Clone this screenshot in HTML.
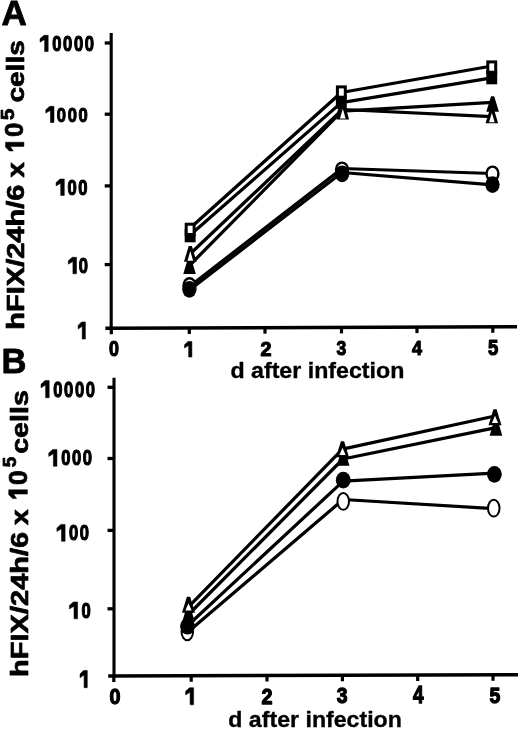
<!DOCTYPE html>
<html><head><meta charset="utf-8"><style>
html,body{margin:0;padding:0;background:#fff;}
svg{display:block;will-change:transform;}
</style></head><body>
<svg width="520" height="735" viewBox="0 0 520 735">
<rect width="520" height="735" fill="#fff"/>
<line x1="111.2" y1="33" x2="111.2" y2="329.8" stroke="#000" stroke-width="3.1"/>
<line x1="105.4" y1="328.3" x2="517" y2="326.7" stroke="#000" stroke-width="3.4"/>
<line x1="104.7" y1="43" x2="111.2" y2="43" stroke="#000" stroke-width="3.3"/>
<line x1="104.7" y1="114.2" x2="111.2" y2="114.2" stroke="#000" stroke-width="3.3"/>
<line x1="104.7" y1="185.9" x2="111.2" y2="185.9" stroke="#000" stroke-width="3.3"/>
<line x1="104.7" y1="264.6" x2="111.2" y2="264.6" stroke="#000" stroke-width="3.3"/>
<line x1="111.3" y1="328.277065111759" x2="111.3" y2="334.277065111759" stroke="#000" stroke-width="3.2"/>
<line x1="189.3" y1="327.97385811467444" x2="189.3" y2="333.97385811467444" stroke="#000" stroke-width="3.2"/>
<line x1="265" y1="327.6795918367347" x2="265" y2="333.6795918367347" stroke="#000" stroke-width="3.2"/>
<line x1="341.5" y1="327.3822157434402" x2="341.5" y2="333.3822157434402" stroke="#000" stroke-width="3.2"/>
<line x1="417" y1="327.08872691933914" x2="417" y2="333.08872691933914" stroke="#000" stroke-width="3.2"/>
<line x1="492.8" y1="326.79407191448007" x2="492.8" y2="332.79407191448007" stroke="#000" stroke-width="3.2"/>
<polyline points="189.50,286.50 342.00,168.50 492.50,173.50" fill="none" stroke="#000" stroke-width="3.25" stroke-linejoin="round" stroke-linecap="butt"/>
<polyline points="189.50,290.00 342.00,172.50 492.70,184.80" fill="none" stroke="#000" stroke-width="3.25" stroke-linejoin="round" stroke-linecap="butt"/>
<polyline points="190.30,253.80 342.50,109.50 491.80,116.60" fill="none" stroke="#000" stroke-width="3.25" stroke-linejoin="round" stroke-linecap="butt"/>
<polyline points="189.50,265.50 342.00,111.20 492.50,102.30" fill="none" stroke="#000" stroke-width="3.25" stroke-linejoin="round" stroke-linecap="butt"/>
<polyline points="190.20,235.00 341.30,102.60 491.80,77.80" fill="none" stroke="#000" stroke-width="3.25" stroke-linejoin="round" stroke-linecap="butt"/>
<polyline points="190.20,228.00 341.30,92.50 491.80,66.00" fill="none" stroke="#000" stroke-width="3.25" stroke-linejoin="round" stroke-linecap="butt"/>
<ellipse cx="189.50" cy="285.40" rx="7.15" ry="8.40" fill="#000"/><ellipse cx="189.50" cy="285.40" rx="4.75" ry="6.00" fill="#fff"/>
<ellipse cx="342.00" cy="169.80" rx="7.15" ry="8.40" fill="#000"/><ellipse cx="342.00" cy="169.80" rx="4.75" ry="6.00" fill="#fff"/>
<ellipse cx="492.50" cy="173.80" rx="7.15" ry="8.40" fill="#000"/><ellipse cx="492.50" cy="173.80" rx="4.75" ry="6.00" fill="#fff"/>
<ellipse cx="189.40" cy="289.30" rx="7.15" ry="8.40" fill="#000"/>
<ellipse cx="342.10" cy="173.80" rx="7.15" ry="8.40" fill="#000"/>
<ellipse cx="492.50" cy="184.60" rx="7.15" ry="8.40" fill="#000"/>
<polygon points="187.95,258.40 191.15,258.40 195.85,274.00 183.25,274.00" fill="#000"/>
<polygon points="340.40,101.70 343.60,101.70 348.30,117.30 335.70,117.30" fill="#000"/>
<polygon points="491.00,96.15 494.20,96.15 498.90,111.75 486.30,111.75" fill="#000"/>
<polygon points="188.70,246.05 191.90,246.05 196.60,261.65 184.00,261.65" fill="#000"/><polygon points="190.30,251.05 193.10,260.65 187.50,260.65" fill="#fff"/>
<polygon points="341.20,103.80 344.40,103.80 349.10,119.40 336.50,119.40" fill="#000"/><polygon points="342.80,108.80 345.60,118.40 340.00,118.40" fill="#fff"/>
<polygon points="490.25,107.65 493.45,107.65 498.15,123.25 485.55,123.25" fill="#000"/><polygon points="491.85,112.65 494.65,122.25 489.05,122.25" fill="#fff"/>
<rect x="184.70" y="228.70" width="10.90" height="13.60" fill="#000"/>
<rect x="335.85" y="95.20" width="10.90" height="13.60" fill="#000"/>
<rect x="486.30" y="70.70" width="10.90" height="13.60" fill="#000"/>
<rect x="184.70" y="222.70" width="10.90" height="13.60" fill="#000"/><rect x="187.70" y="225.70" width="4.90" height="7.30" fill="#fff"/>
<rect x="335.90" y="85.40" width="10.90" height="13.60" fill="#000"/><rect x="338.90" y="88.40" width="4.90" height="7.30" fill="#fff"/>
<rect x="486.30" y="60.40" width="10.90" height="13.60" fill="#000"/><rect x="489.30" y="63.40" width="4.90" height="7.30" fill="#fff"/>
<line x1="114.0" y1="377.7" x2="114.0" y2="677.5" stroke="#000" stroke-width="3.1"/>
<line x1="108.2" y1="676" x2="518" y2="674.7" stroke="#000" stroke-width="3.4"/>
<line x1="107.5" y1="387.3" x2="114.0" y2="387.3" stroke="#000" stroke-width="3.3"/>
<line x1="107.5" y1="458.5" x2="114.0" y2="458.5" stroke="#000" stroke-width="3.3"/>
<line x1="107.5" y1="530.4" x2="114.0" y2="530.4" stroke="#000" stroke-width="3.3"/>
<line x1="107.5" y1="608.8" x2="114.0" y2="608.8" stroke="#000" stroke-width="3.3"/>
<line x1="113.8" y1="675.9822352367008" x2="113.8" y2="681.9822352367008" stroke="#000" stroke-width="3.2"/>
<line x1="191.2" y1="675.736700829673" x2="191.2" y2="681.736700829673" stroke="#000" stroke-width="3.2"/>
<line x1="267" y1="675.4962420693021" x2="267" y2="681.4962420693021" stroke="#000" stroke-width="3.2"/>
<line x1="342.4" y1="675.2570522205955" x2="342.4" y2="681.2570522205955" stroke="#000" stroke-width="3.2"/>
<line x1="417.7" y1="675.0181795998049" x2="417.7" y2="681.0181795998049" stroke="#000" stroke-width="3.2"/>
<line x1="493" y1="674.7793069790142" x2="493" y2="680.7793069790142" stroke="#000" stroke-width="3.2"/>
<polyline points="187.30,632.60 343.20,499.50 493.80,508.60" fill="none" stroke="#000" stroke-width="3.25" stroke-linejoin="round" stroke-linecap="butt"/>
<polyline points="187.50,625.80 343.20,481.10 494.40,473.10" fill="none" stroke="#000" stroke-width="3.25" stroke-linejoin="round" stroke-linecap="butt"/>
<polyline points="188.50,614.50 343.00,459.00 496.00,427.60" fill="none" stroke="#000" stroke-width="3.25" stroke-linejoin="round" stroke-linecap="butt"/>
<polyline points="188.50,606.80 342.50,449.20 495.00,416.00" fill="none" stroke="#000" stroke-width="3.25" stroke-linejoin="round" stroke-linecap="butt"/>
<ellipse cx="187.30" cy="631.75" rx="6.75" ry="9.45" fill="#000"/><ellipse cx="187.30" cy="631.75" rx="4.75" ry="7.45" fill="#fff"/>
<ellipse cx="343.25" cy="501.40" rx="6.75" ry="9.45" fill="#000"/><ellipse cx="343.25" cy="501.40" rx="4.75" ry="7.45" fill="#fff"/>
<ellipse cx="493.75" cy="508.15" rx="6.75" ry="9.45" fill="#000"/><ellipse cx="493.75" cy="508.15" rx="4.75" ry="7.45" fill="#fff"/>
<ellipse cx="187.50" cy="626.30" rx="7.40" ry="8.30" fill="#000"/>
<ellipse cx="343.25" cy="480.15" rx="7.40" ry="8.30" fill="#000"/>
<ellipse cx="494.40" cy="474.35" rx="7.40" ry="8.30" fill="#000"/>
<polygon points="186.90,605.95 190.10,605.95 194.85,622.05 182.15,622.05" fill="#000"/>
<polygon points="341.50,449.70 344.70,449.70 349.45,465.80 336.75,465.80" fill="#000"/>
<polygon points="494.35,419.70 497.55,419.70 502.30,435.80 489.60,435.80" fill="#000"/>
<polygon points="186.90,596.70 190.10,596.70 195.00,612.80 182.00,612.80" fill="#000"/><polygon points="188.50,603.20 191.60,610.50 185.40,610.50" fill="#fff"/>
<polygon points="340.90,441.20 344.10,441.20 349.00,457.30 336.00,457.30" fill="#000"/><polygon points="342.50,447.70 345.60,455.00 339.40,455.00" fill="#fff"/>
<polygon points="493.40,409.25 496.60,409.25 501.50,425.35 488.50,425.35" fill="#000"/><polygon points="495.00,415.75 498.10,423.05 491.90,423.05" fill="#fff"/>
<polygon points="48.20,35.30 48.20,51.60 44.60,51.60 44.60,39.54 40.00,42.15 40.00,38.72 44.00,35.30" fill="#000" stroke="#000" stroke-width="0.5" stroke-linejoin="round"/>
<text transform="translate(89.30,50.79) scale(0.8470,1.0855)" font-family="Liberation Sans" font-weight="bold" stroke="#000" stroke-linejoin="round" stroke-width="1.1" font-size="19.6" text-anchor="middle">0</text>
<text transform="translate(78.50,50.79) scale(0.8470,1.0855)" font-family="Liberation Sans" font-weight="bold" stroke="#000" stroke-linejoin="round" stroke-width="1.1" font-size="19.6" text-anchor="middle">0</text>
<text transform="translate(67.70,50.79) scale(0.8470,1.0855)" font-family="Liberation Sans" font-weight="bold" stroke="#000" stroke-linejoin="round" stroke-width="1.1" font-size="19.6" text-anchor="middle">0</text>
<text transform="translate(56.90,50.79) scale(0.8470,1.0855)" font-family="Liberation Sans" font-weight="bold" stroke="#000" stroke-linejoin="round" stroke-width="1.1" font-size="19.6" text-anchor="middle">0</text>
<polygon points="54.00,106.30 54.00,122.50 50.40,122.50 50.40,110.51 45.80,113.10 45.80,109.70 49.80,106.30" fill="#000" stroke="#000" stroke-width="0.5" stroke-linejoin="round"/>
<text transform="translate(83.05,121.70) scale(0.8470,1.0788)" font-family="Liberation Sans" font-weight="bold" stroke="#000" stroke-linejoin="round" stroke-width="1.1" font-size="19.6" text-anchor="middle">0</text>
<text transform="translate(72.25,121.70) scale(0.8470,1.0788)" font-family="Liberation Sans" font-weight="bold" stroke="#000" stroke-linejoin="round" stroke-width="1.1" font-size="19.6" text-anchor="middle">0</text>
<text transform="translate(61.45,121.70) scale(0.8470,1.0788)" font-family="Liberation Sans" font-weight="bold" stroke="#000" stroke-linejoin="round" stroke-width="1.1" font-size="19.6" text-anchor="middle">0</text>
<polygon points="64.30,179.00 64.30,195.40 60.70,195.40 60.70,183.26 56.10,185.89 56.10,182.44 60.10,179.00" fill="#000" stroke="#000" stroke-width="0.5" stroke-linejoin="round"/>
<text transform="translate(82.85,194.59) scale(0.8470,1.0922)" font-family="Liberation Sans" font-weight="bold" stroke="#000" stroke-linejoin="round" stroke-width="1.1" font-size="19.6" text-anchor="middle">0</text>
<text transform="translate(72.05,194.59) scale(0.8470,1.0922)" font-family="Liberation Sans" font-weight="bold" stroke="#000" stroke-linejoin="round" stroke-width="1.1" font-size="19.6" text-anchor="middle">0</text>
<polygon points="76.50,257.30 76.50,273.80 72.90,273.80 72.90,261.59 68.30,264.23 68.30,260.76 72.30,257.30" fill="#000" stroke="#000" stroke-width="0.5" stroke-linejoin="round"/>
<text transform="translate(83.45,272.98) scale(0.8470,1.0988)" font-family="Liberation Sans" font-weight="bold" stroke="#000" stroke-linejoin="round" stroke-width="1.1" font-size="19.6" text-anchor="middle">0</text>
<polygon points="85.40,321.90 85.40,339.10 82.19,339.10 82.19,326.37 78.10,329.12 78.10,325.51 81.59,321.90" fill="#000" stroke="#000" stroke-width="0.5" stroke-linejoin="round"/>
<polygon points="49.20,380.60 49.20,397.75 45.60,397.75 45.60,385.06 41.00,387.80 41.00,384.20 45.00,380.60" fill="#000" stroke="#000" stroke-width="0.5" stroke-linejoin="round"/>
<text transform="translate(90.30,396.90) scale(0.8470,1.1421)" font-family="Liberation Sans" font-weight="bold" stroke="#000" stroke-linejoin="round" stroke-width="1.1" font-size="19.6" text-anchor="middle">0</text>
<text transform="translate(79.50,396.90) scale(0.8470,1.1421)" font-family="Liberation Sans" font-weight="bold" stroke="#000" stroke-linejoin="round" stroke-width="1.1" font-size="19.6" text-anchor="middle">0</text>
<text transform="translate(68.70,396.90) scale(0.8470,1.1421)" font-family="Liberation Sans" font-weight="bold" stroke="#000" stroke-linejoin="round" stroke-width="1.1" font-size="19.6" text-anchor="middle">0</text>
<text transform="translate(57.90,396.90) scale(0.8470,1.1421)" font-family="Liberation Sans" font-weight="bold" stroke="#000" stroke-linejoin="round" stroke-width="1.1" font-size="19.6" text-anchor="middle">0</text>
<polygon points="56.95,449.40 56.95,466.25 53.35,466.25 53.35,453.78 48.75,456.48 48.75,452.94 52.75,449.40" fill="#000" stroke="#000" stroke-width="0.5" stroke-linejoin="round"/>
<text transform="translate(87.45,465.41) scale(0.8470,1.1221)" font-family="Liberation Sans" font-weight="bold" stroke="#000" stroke-linejoin="round" stroke-width="1.1" font-size="19.6" text-anchor="middle">0</text>
<text transform="translate(76.65,465.41) scale(0.8470,1.1221)" font-family="Liberation Sans" font-weight="bold" stroke="#000" stroke-linejoin="round" stroke-width="1.1" font-size="19.6" text-anchor="middle">0</text>
<text transform="translate(65.85,465.41) scale(0.8470,1.1221)" font-family="Liberation Sans" font-weight="bold" stroke="#000" stroke-linejoin="round" stroke-width="1.1" font-size="19.6" text-anchor="middle">0</text>
<polygon points="65.10,524.40 65.10,541.25 61.50,541.25 61.50,528.78 56.90,531.48 56.90,527.94 60.90,524.40" fill="#000" stroke="#000" stroke-width="0.5" stroke-linejoin="round"/>
<text transform="translate(84.30,540.41) scale(0.8470,1.1221)" font-family="Liberation Sans" font-weight="bold" stroke="#000" stroke-linejoin="round" stroke-width="1.1" font-size="19.6" text-anchor="middle">0</text>
<text transform="translate(73.50,540.41) scale(0.8470,1.1221)" font-family="Liberation Sans" font-weight="bold" stroke="#000" stroke-linejoin="round" stroke-width="1.1" font-size="19.6" text-anchor="middle">0</text>
<polygon points="77.60,601.90 77.60,618.75 74.00,618.75 74.00,606.28 69.40,608.98 69.40,605.44 73.40,601.90" fill="#000" stroke="#000" stroke-width="0.5" stroke-linejoin="round"/>
<text transform="translate(86.15,617.91) scale(0.8470,1.1221)" font-family="Liberation Sans" font-weight="bold" stroke="#000" stroke-linejoin="round" stroke-width="1.1" font-size="19.6" text-anchor="middle">0</text>
<polygon points="87.30,670.40 87.30,687.70 84.09,687.70 84.09,674.90 80.00,677.67 80.00,674.03 83.49,670.40" fill="#000" stroke="#000" stroke-width="0.5" stroke-linejoin="round"/>
<text transform="translate(114.00,356.06) scale(0.9136,1.1255)" font-family="Liberation Sans" font-weight="bold" stroke="#000" stroke-linejoin="round" stroke-width="1.1" font-size="19.6" text-anchor="middle">0</text>
<polygon points="191.90,341.40 191.90,357.10 188.64,357.10 188.64,345.48 184.50,347.99 184.50,344.70 188.04,341.40" fill="#000" stroke="#000" stroke-width="0.5" stroke-linejoin="round"/>
<text transform="translate(266.00,356.41) scale(1.0088,1.0661)" font-family="Liberation Sans" font-weight="bold" stroke="#000" stroke-linejoin="round" stroke-width="1.1" font-size="19.6" text-anchor="middle">2</text>
<text transform="translate(341.49,355.02) scale(0.8969,1.0389)" font-family="Liberation Sans" font-weight="bold" stroke="#000" stroke-linejoin="round" stroke-width="1.1" font-size="19.6" text-anchor="middle">3</text>
<text transform="translate(416.91,355.01) scale(0.9227,1.0667)" font-family="Liberation Sans" font-weight="bold" stroke="#000" stroke-linejoin="round" stroke-width="1.1" font-size="19.6" text-anchor="middle">4</text>
<text transform="translate(493.26,354.85) scale(0.9436,1.1336)" font-family="Liberation Sans" font-weight="bold" stroke="#000" stroke-linejoin="round" stroke-width="1.1" font-size="19.6" text-anchor="middle">5</text>
<text transform="translate(114.90,704.14) scale(1.0088,1.1521)" font-family="Liberation Sans" font-weight="bold" stroke="#000" stroke-linejoin="round" stroke-width="1.1" font-size="19.6" text-anchor="middle">0</text>
<polygon points="193.60,687.70 193.60,704.80 190.08,704.80 190.08,692.15 185.60,694.88 185.60,691.29 189.48,687.70" fill="#000" stroke="#000" stroke-width="0.5" stroke-linejoin="round"/>
<text transform="translate(267.00,703.97) scale(1.0088,1.1404)" font-family="Liberation Sans" font-weight="bold" stroke="#000" stroke-linejoin="round" stroke-width="1.1" font-size="19.6" text-anchor="middle">2</text>
<text transform="translate(342.10,703.15) scale(0.9903,1.1454)" font-family="Liberation Sans" font-weight="bold" stroke="#000" stroke-linejoin="round" stroke-width="1.1" font-size="19.6" text-anchor="middle">3</text>
<text transform="translate(418.16,703.35) scale(0.9662,1.1761)" font-family="Liberation Sans" font-weight="bold" stroke="#000" stroke-linejoin="round" stroke-width="1.1" font-size="19.6" text-anchor="middle">4</text>
<text transform="translate(494.80,703.13) scale(0.9903,1.1606)" font-family="Liberation Sans" font-weight="bold" stroke="#000" stroke-linejoin="round" stroke-width="1.1" font-size="19.6" text-anchor="middle">5</text>
<text x="230.4" y="378.4" font-family="Liberation Sans" font-weight="bold" stroke="#000" stroke-linejoin="round" stroke-width="0.35" font-size="22.8" textLength="174" lengthAdjust="spacingAndGlyphs">d after infection</text>
<text x="228.3" y="727.2" font-family="Liberation Sans" font-weight="bold" stroke="#000" stroke-linejoin="round" stroke-width="0.35" font-size="22.4" textLength="173.6" lengthAdjust="spacingAndGlyphs">d after infection</text>
<text x="1.4" y="24.8" font-family="Liberation Sans" font-weight="bold" stroke="#000" stroke-linejoin="round" stroke-width="0.8" font-size="35">A</text>
<text x="1.6" y="372.5" font-family="Liberation Sans" font-weight="bold" stroke="#000" stroke-linejoin="round" stroke-width="0.8" font-size="34.6">B</text>
<text transform="translate(24.0,329.80) rotate(-90)" font-family="Liberation Sans" font-weight="bold" stroke="#000" stroke-linejoin="round" stroke-width="0.7" font-size="24.4" textLength="145.30" lengthAdjust="spacingAndGlyphs">hFIX/24h/6</text>
<text transform="translate(24.0,177.40) rotate(-90)" font-family="Liberation Sans" font-weight="bold" stroke="#000" stroke-linejoin="round" stroke-width="0.7" font-size="24.4" textLength="15.30" lengthAdjust="spacingAndGlyphs">x</text>
<text transform="translate(24.0,102.60) rotate(-90)" font-family="Liberation Sans" font-weight="bold" stroke="#000" stroke-linejoin="round" stroke-width="0.7" font-size="24.4" textLength="62.40" lengthAdjust="spacingAndGlyphs">cells</text>
<polygon points="5.50,142.20 23.90,142.20 23.90,146.50 10.28,146.50 13.23,151.00 9.36,151.00 5.50,147.10" fill="#000" stroke="#000" stroke-width="0.5" stroke-linejoin="round"/>
<text transform="translate(23.38,129.70) rotate(-90) scale(1.0635,1.0431)" font-family="Liberation Sans" font-weight="bold" stroke="#000" stroke-linejoin="round" stroke-width="0.7" font-size="24.4" text-anchor="middle">0</text>
<text transform="translate(14.24,114.40) rotate(-90) scale(1.1960,1.0794)" font-family="Liberation Sans" font-weight="bold" stroke="#000" stroke-linejoin="round" stroke-width="0.7" font-size="17" text-anchor="middle">5</text>
<text transform="translate(28.0,676.90) rotate(-90)" font-family="Liberation Sans" font-weight="bold" stroke="#000" stroke-linejoin="round" stroke-width="0.7" font-size="24.4" textLength="145.10" lengthAdjust="spacingAndGlyphs">hFIX/24h/6</text>
<text transform="translate(28.0,524.90) rotate(-90)" font-family="Liberation Sans" font-weight="bold" stroke="#000" stroke-linejoin="round" stroke-width="0.7" font-size="24.4" textLength="15.60" lengthAdjust="spacingAndGlyphs">x</text>
<text transform="translate(28.0,453.80) rotate(-90)" font-family="Liberation Sans" font-weight="bold" stroke="#000" stroke-linejoin="round" stroke-width="0.7" font-size="24.4" textLength="63.60" lengthAdjust="spacingAndGlyphs">cells</text>
<polygon points="8.70,489.80 27.40,489.80 27.40,494.10 13.56,494.10 16.55,498.50 12.63,498.50 8.70,494.70" fill="#000" stroke="#000" stroke-width="0.5" stroke-linejoin="round"/>
<text transform="translate(27.08,477.55) rotate(-90) scale(1.0877,1.0375)" font-family="Liberation Sans" font-weight="bold" stroke="#000" stroke-linejoin="round" stroke-width="0.7" font-size="24.4" text-anchor="middle">0</text>
<text transform="translate(16.06,462.09) rotate(-90) scale(1.1074,1.0397)" font-family="Liberation Sans" font-weight="bold" stroke="#000" stroke-linejoin="round" stroke-width="0.7" font-size="17" text-anchor="middle">5</text>
</svg>
</body></html>
